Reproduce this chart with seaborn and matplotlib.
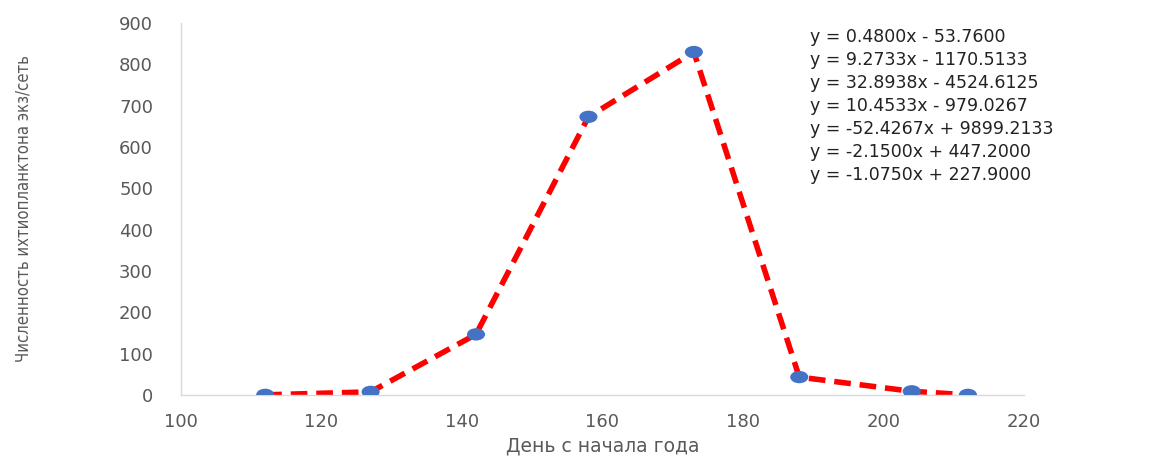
import pandas as pd
import seaborn as sns
import matplotlib.pyplot as plt
from matplotlib.path import Path

# данные: день с начала года и численность ихтиопланктона
days = [112, 127, 142, 158, 173, 188, 204, 212]
counts = [0, 7.2, 146.3, 672.6, 829.4, 43.0, 8.6, 0]
equations = [
    "y = 0.4800x - 53.7600",
    "y = 9.2733x - 1170.5133",
    "y = 32.8938x - 4524.6125",
    "y = 10.4533x - 979.0267",
    "y = -52.4267x + 9899.2133",
    "y = -2.1500x + 447.2000",
    "y = -1.0750x + 227.9000",
]
x_ticks = [100, 120, 140, 160, 180, 200, 220]
y_ticks = [0, 100, 200, 300, 400, 500, 600, 700, 800, 900]

df = pd.DataFrame({"day": days, "count": counts})

sns.set_style("white")
plt.rcParams['font.family'] = ['DejaVu Sans']

fig = plt.figure(figsize=(11.52, 4.57), dpi=100)
ax = fig.add_axes([0.157, 0.136, 0.732, 0.814])

# приплюснутый маркер, как на исходном графике
circ = Path.unit_circle()
ellipse = Path(circ.vertices * [1.0, 0.68], circ.codes)

sns.lineplot(data=df, x="day", y="count", ax=ax, color="#ff0000",
             linewidth=4, linestyle=(0, (3.0, 1.6)), zorder=2)
sns.scatterplot(data=df, x="day", y="count", ax=ax, color="#4472c4",
                marker=ellipse, s=170, edgecolor="none", zorder=3)

ax.set_xlim(100, 220)
ax.set_ylim(0, 900)
ax.set_xticks(x_ticks)
ax.set_yticks(y_ticks)
ax.tick_params(axis="both", length=0, labelsize=13, colors="#595959")
ax.tick_params(axis="x", pad=13)
ax.tick_params(axis="y", pad=20)

for side in ["top", "right"]:
    ax.spines[side].set_visible(False)
for side in ["left", "bottom"]:
    ax.spines[side].set_color("#d9d9d9")
    ax.spines[side].set_linewidth(1)

ax.set_xlabel("День с начала года", fontsize=13.5, color="#595959", labelpad=4)
ax.set_ylabel("Численность ихтиопланктона экз/сеть", fontsize=12,
              color="#595959", labelpad=62,
              family="DejaVu Sans", fontstretch="condensed")

ax.text(0.746, 0.985, "\n".join(equations), transform=ax.transAxes,
        fontsize=12.5, color="#222222", va="top", ha="left", linespacing=1.35)

fig.savefig("out.png", dpi=100)
